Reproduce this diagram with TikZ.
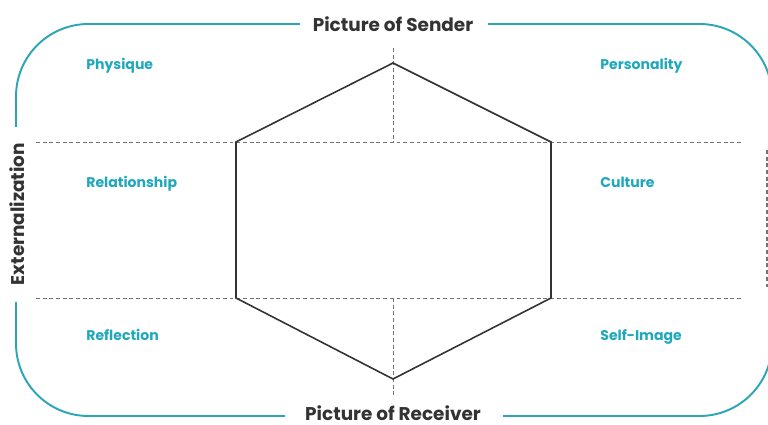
\documentclass[tikz,border=0pt]{standalone}
\usepackage{fontspec}
\setmainfont{Poppins}
\usetikzlibrary{calc}
\definecolor{frameteal}{HTML}{2CA6B7}
\definecolor{labelteal}{HTML}{1FA8BC}
\definecolor{inkgray}{HTML}{333333}
\tikzset{
	frame/.style={line width=1.1pt, color=frameteal, rounded corners=1.45cm},
	hexline/.style={line width=0.9pt, color=inkgray, line join=miter},
	guide/.style={line width=0.5pt, color=black!55, dash pattern=on 2.2pt off 1.6pt},
	heading/.style={font=\bfseries\fontsize{10.5}{12}\selectfont, text=inkgray, inner sep=0pt},
	facet/.style={font=\bfseries\fontsize{8}{10}\selectfont, text=labelteal, anchor=west, inner sep=0pt, text height=1.6ex, text depth=0.5ex}
}

\begin{document}
\begin{tikzpicture}[x=0.02cm, y=-0.02cm]
			%%%%% START %%%%%
			\useasboundingbox (0, 0) rectangle (768, 425);
			
			% outer frame, broken where the headings sit
			\draw[frame] (300, 24) -| (16, 127);
			\draw[frame] (16, 302) |- (285, 416);
			\draw[frame] (488, 24) -| (772, 127);
			\draw[frame] (772, 302) |- (503, 416);
			
			\node[heading] (sender) at (393, 24) {Picture of Sender};
			\node[heading] (receiver) at (393, 413) {Picture of Receiver};
			\node[heading, rotate=90] (ext) at (17, 214) {Externalization};
			\draw[guide, line width=0.8pt] (767, 150) -- (767, 290);
			
			% guide lines
			\draw[guide] (36, 142) -- (742, 142);
			\draw[guide] (36, 298) -- (742, 298);
			\draw[guide] (393, 48) -- (393, 142);
			\draw[guide] (393, 298) -- (393, 396);
			
			% hexagon
			\coordinate (top) at (393, 63);
			\coordinate (ur) at (551, 142);
			\coordinate (lr) at (551, 298);
			\coordinate (bot) at (393, 379);
			\coordinate (ll) at (236, 298);
			\coordinate (ul) at (236, 142);
			\draw[hexline] (top) -- (ur) -- (lr) -- (bot) -- (ll) -- (ul) -- cycle;
			
			% facets
			\node[facet] (physique) at (86, 64) {Physique};
			\node[facet] (relationship) at (86, 182) {Relationship};
			\node[facet] (reflection) at (86, 335) {Reflection};
			\node[facet] (personality) at (600, 64) {Personality};
			\node[facet] (culture) at (600, 182) {Culture};
			\node[facet] (selfimage) at (600, 335) {Self-Image};
			
			%%%%% END %%%%%
		\end{tikzpicture}
\end{document}
